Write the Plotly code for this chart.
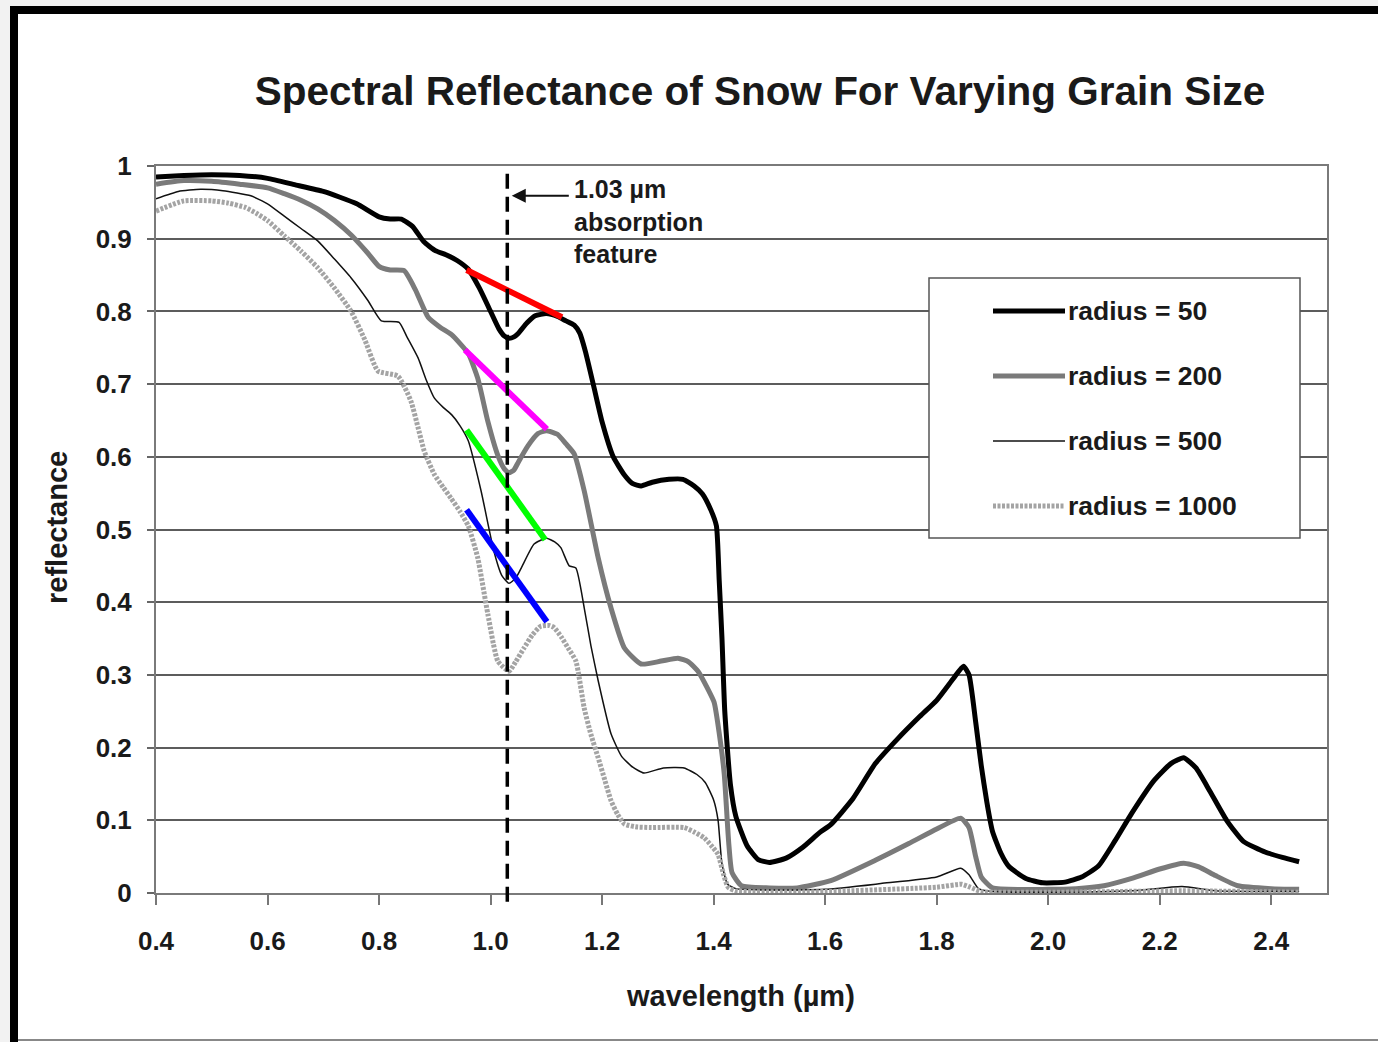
import plotly.graph_objects as go

# ---- data -------------------------------------------------------------
# spectral reflectance of snow, wavelength in micrometres
wl_r50 = [0.40, 0.45, 0.50, 0.55, 0.60, 0.65, 0.70, 0.73, 0.76, 0.80, 0.82, 0.84,
          0.86, 0.88, 0.90, 0.92, 0.94, 0.96, 0.98, 1.00, 1.015, 1.025, 1.033, 1.042, 1.05, 1.065,
          1.08, 1.10, 1.12, 1.135, 1.15, 1.16, 1.17, 1.185, 1.20, 1.22, 1.24, 1.255,
          1.27, 1.29, 1.32, 1.345, 1.365, 1.38, 1.395, 1.405, 1.41, 1.415, 1.42, 1.43,
          1.44, 1.46, 1.48, 1.50, 1.53, 1.56, 1.59, 1.61, 1.65, 1.69, 1.73, 1.77,
          1.80, 1.83, 1.848, 1.858, 1.87, 1.88, 1.89, 1.90, 1.915, 1.93, 1.96, 1.99,
          2.03, 2.06, 2.09, 2.12, 2.15, 2.19, 2.22, 2.243, 2.265, 2.29, 2.32, 2.35,
          2.39, 2.42, 2.45]
refl_r50 = [0.985, 0.987, 0.988, 0.987, 0.983, 0.974, 0.965, 0.957, 0.948, 0.930, 0.927, 0.927,
            0.917, 0.896, 0.884, 0.878, 0.870, 0.858, 0.832, 0.800, 0.776, 0.766, 0.763, 0.765, 0.770, 0.784,
            0.794, 0.797, 0.793, 0.787, 0.781, 0.770, 0.745, 0.697, 0.648, 0.600, 0.575, 0.563,
            0.560, 0.565, 0.569, 0.569, 0.560, 0.549, 0.527, 0.505, 0.430, 0.350, 0.250, 0.150,
            0.105, 0.065, 0.046, 0.042, 0.048, 0.063, 0.083, 0.094, 0.130, 0.178, 0.212, 0.243,
            0.265, 0.295, 0.312, 0.300, 0.235, 0.175, 0.125, 0.085, 0.055, 0.036, 0.020, 0.014,
            0.015, 0.022, 0.037, 0.072, 0.110, 0.155, 0.178, 0.186, 0.172, 0.140, 0.100, 0.071,
            0.056, 0.049, 0.043]

wl_r200 = [0.40, 0.45, 0.50, 0.55, 0.60, 0.63, 0.66, 0.69, 0.72, 0.75, 0.78, 0.80,
           0.82, 0.845, 0.865, 0.888, 0.91, 0.93, 0.96, 0.977, 0.995, 1.013, 1.025, 1.033, 1.042, 1.05,
           1.067, 1.085, 1.10, 1.12, 1.135, 1.15, 1.168, 1.193, 1.216, 1.24, 1.27, 1.306,
           1.336, 1.355, 1.372, 1.39, 1.401, 1.41, 1.419, 1.427, 1.433, 1.45, 1.50, 1.55,
           1.61, 1.69, 1.75, 1.80, 1.843, 1.858, 1.87, 1.88, 1.90, 2.00, 2.05, 2.10,
           2.15, 2.20, 2.243, 2.27, 2.30, 2.34, 2.40, 2.45]
refl_r200 = [0.975, 0.980, 0.979, 0.975, 0.970, 0.962, 0.953, 0.941, 0.925, 0.905, 0.880, 0.862,
             0.857, 0.856, 0.830, 0.792, 0.778, 0.768, 0.742, 0.708, 0.649, 0.602, 0.583, 0.578, 0.582, 0.593,
             0.615, 0.632, 0.636, 0.631, 0.618, 0.604, 0.553, 0.461, 0.392, 0.337, 0.315, 0.319,
             0.323, 0.318, 0.305, 0.280, 0.262, 0.220, 0.164, 0.070, 0.028, 0.010, 0.007, 0.007,
             0.017, 0.045, 0.068, 0.088, 0.103, 0.090, 0.050, 0.022, 0.007, 0.005, 0.006, 0.010,
             0.020, 0.033, 0.041, 0.036, 0.024, 0.010, 0.006, 0.005]

wl_r500 = [0.40, 0.44, 0.48, 0.52, 0.57, 0.60, 0.63, 0.66, 0.69, 0.72, 0.75, 0.78,
           0.804, 0.836, 0.85, 0.87, 0.885, 0.899, 0.915, 0.93, 0.945, 0.96, 0.983, 1.006,
           1.02, 1.033, 1.045, 1.055, 1.078, 1.10, 1.115, 1.126, 1.141, 1.153, 1.168, 1.18,
           1.193, 1.216, 1.235, 1.255, 1.275, 1.31, 1.347, 1.37, 1.385, 1.40, 1.408, 1.415,
           1.425, 1.44, 1.50, 1.60, 1.70, 1.80, 1.843, 1.858, 1.875, 1.90, 2.00, 2.15,
           2.24, 2.30, 2.45]
refl_r500 = [0.955, 0.965, 0.968, 0.966, 0.959, 0.948, 0.931, 0.914, 0.897, 0.872, 0.846, 0.815,
             0.787, 0.785, 0.765, 0.736, 0.705, 0.681, 0.668, 0.658, 0.643, 0.622, 0.553, 0.470,
             0.437, 0.426, 0.433, 0.447, 0.480, 0.488, 0.483, 0.475, 0.450, 0.447, 0.392, 0.340,
             0.292, 0.219, 0.188, 0.173, 0.165, 0.172, 0.172, 0.163, 0.152, 0.128, 0.100, 0.040,
             0.012, 0.006, 0.004, 0.005, 0.013, 0.022, 0.034, 0.025, 0.006, 0.002, 0.001, 0.003,
             0.009, 0.003, 0.002]

wl_r1000 = [0.40, 0.45, 0.50, 0.53, 0.56, 0.58, 0.60, 0.63, 0.66, 0.69, 0.72, 0.75,
            0.775, 0.798, 0.834, 0.857, 0.87, 0.881, 0.899, 0.915, 0.929, 0.945, 0.96, 0.977,
            0.995, 1.013, 1.033, 1.045, 1.06, 1.075, 1.09, 1.105, 1.114, 1.127, 1.139, 1.153,
            1.168, 1.18, 1.193, 1.205, 1.216, 1.228, 1.24, 1.26, 1.288, 1.347, 1.365, 1.383,
            1.395, 1.408, 1.418, 1.426, 1.44, 1.60, 1.80, 1.845, 1.86, 1.88, 2.00, 2.24,
            2.45]
refl_r1000 = [0.938, 0.952, 0.952, 0.949, 0.943, 0.935, 0.925, 0.904, 0.883, 0.860, 0.832, 0.800,
              0.760, 0.718, 0.711, 0.677, 0.640, 0.608, 0.576, 0.558, 0.543, 0.525, 0.505, 0.461,
              0.384, 0.319, 0.305, 0.318, 0.337, 0.355, 0.367, 0.368, 0.365, 0.352, 0.337, 0.319,
              0.254, 0.218, 0.186, 0.155, 0.127, 0.108, 0.095, 0.091, 0.090, 0.090, 0.084, 0.076,
              0.066, 0.053, 0.025, 0.008, 0.003, 0.002, 0.008, 0.012, 0.008, 0.002, 0.001, 0.003,
              0.001]

series_names = ["radius = 50", "radius = 200", "radius = 500", "radius = 1000"]
series_x = [wl_r50, wl_r200, wl_r500, wl_r1000]
series_y = [refl_r50, refl_r200, refl_r500, refl_r1000]

# continuum lines bridging the 1.03 um absorption band
cont_x0 = [0.957, 0.954, 0.957, 0.957]
cont_y0 = [0.857, 0.747, 0.637, 0.527]
cont_x1 = [1.128, 1.101, 1.098, 1.101]
cont_y1 = [0.792, 0.638, 0.486, 0.373]
cont_colors = ["#ff0000", "#ff00ff", "#00ff00", "#0000ff"]

feature_wl = 1.03
x_ticks = [0.4, 0.6, 0.8, 1.0, 1.2, 1.4, 1.6, 1.8, 2.0, 2.2, 2.4]
x_tick_text = ["0.4", "0.6", "0.8", "1.0", "1.2", "1.4", "1.6", "1.8", "2.0", "2.2", "2.4"]
y_ticks = [0, 0.1, 0.2, 0.3, 0.4, 0.5, 0.6, 0.7, 0.8, 0.9, 1.0]
y_tick_text = ["0", "0.1", "0.2", "0.3", "0.4", "0.5", "0.6", "0.7", "0.8", "0.9", "1"]

# ---- styling ----------------------------------------------------------
FONT = "Liberation Sans, Arial, sans-serif"
W, H = 1378, 1042
ML, MR, MT, MB = 156, 51, 166, 149
PW, PH = W - ML - MR, H - MT - MB

styles = [
    dict(color="#000000", width=5),
    dict(color="#7a7a7a", width=5),
    dict(color="#111111", width=1.5),
    dict(color="#a4a4a4", width=5, dash="3px,1.5px"),
]


def px_x(p):
    return (p - ML) / PW


def px_y(p):
    return (H - MB - p) / PH


fig = go.Figure()

for name, xs, ys, st in zip(series_names, series_x, series_y, styles):
    fig.add_trace(go.Scatter(x=xs, y=ys, mode="lines", name=name,
                             line=dict(st, shape="spline", smoothing=0.5),
                             showlegend=False, hoverinfo="x+y+name"))

# continuum segments
for x0, y0, x1, y1, c in zip(cont_x0, cont_y0, cont_x1, cont_y1, cont_colors):
    fig.add_trace(go.Scatter(x=[x0, x1], y=[y0, y1], mode="lines",
                             line=dict(color=c, width=6), showlegend=False,
                             hoverinfo="skip"))

shapes = []
# dashed marker of the absorption feature
shapes.append(dict(type="line", xref="x", yref="paper", x0=feature_wl, x1=feature_wl,
                   y0=-0.012, y1=0.99, line=dict(color="#000", width=3.5, dash="15px,8px")))

# page frame
shapes.append(dict(type="rect", xref="paper", yref="paper", x0=px_x(0), x1=px_x(W),
                   y0=px_y(0), y1=px_y(6), fillcolor="#f2f2f2", line_width=0, layer="below"))
shapes.append(dict(type="rect", xref="paper", yref="paper", x0=px_x(0), x1=px_x(10),
                   y0=px_y(0), y1=px_y(H), fillcolor="#f2f2f2", line_width=0, layer="below"))
shapes.append(dict(type="rect", xref="paper", yref="paper", x0=px_x(10), x1=px_x(W),
                   y0=px_y(6), y1=px_y(14), fillcolor="#000", line_width=0))
shapes.append(dict(type="rect", xref="paper", yref="paper", x0=px_x(10), x1=px_x(18),
                   y0=px_y(6), y1=px_y(H), fillcolor="#000", line_width=0))
shapes.append(dict(type="line", xref="paper", yref="paper", x0=px_x(18), x1=px_x(W),
                   y0=px_y(1040), y1=px_y(1040), line=dict(color="#888", width=2)))

# legend box
shapes.append(dict(type="rect", xref="paper", yref="paper", x0=px_x(929), x1=px_x(1300),
                   y0=px_y(538), y1=px_y(278), fillcolor="#fff",
                   line=dict(color="#555", width=1.5)))
annotations = []
row_y = [311, 376, 441, 506]
for name, st, ry in zip(series_names, styles, row_y):
    shapes.append(dict(type="line", xref="paper", yref="paper", x0=px_x(993), x1=px_x(1065),
                       y0=px_y(ry), y1=px_y(ry), line=st))
    annotations.append(dict(xref="paper", yref="paper", x=px_x(1066), y=px_y(ry),
                            xanchor="left", yanchor="middle", text=name, showarrow=False,
                            font=dict(family=FONT, size=26.5, color="#1a1a1a", weight="bold")))

# feature label and arrow
annotations.append(dict(xref="x", yref="y", x=1.146, y=0.99, xanchor="left", yanchor="top",
                        align="left", showarrow=False,
                        text="1.03 \u00b5m<br>absorption<br>feature",
                        font=dict(family=FONT, size=25, color="#1a1a1a", weight="bold")))
annotations.append(dict(xref="x", yref="y", x=feature_wl + 0.008, y=0.959,
                        axref="x", ayref="y", ax=1.143, ay=0.959, text="",
                        showarrow=True, arrowhead=2, arrowsize=1.4, arrowwidth=2,
                        arrowcolor="#111"))

# axis titles
annotations.append(dict(xref="paper", yref="paper", x=px_x(740), y=px_y(996),
                        xanchor="center", yanchor="middle", showarrow=False,
                        text="wavelength (\u00b5m)",
                        font=dict(family=FONT, size=29, color="#1a1a1a", weight="bold")))
annotations.append(dict(xref="paper", yref="paper", x=px_x(57), y=px_y(528),
                        xanchor="center", yanchor="middle", showarrow=False, textangle=-90,
                        text="reflectance",
                        font=dict(family=FONT, size=29, color="#1a1a1a", weight="bold")))

fig.update_layout(
    width=W, height=H,
    margin=dict(l=ML, r=MR, t=MT, b=MB, pad=0),
    paper_bgcolor="#ffffff", plot_bgcolor="#ffffff",
    title=dict(text="Spectral Reflectance of Snow For Varying Grain Size",
               x=px_x(760), xref="paper", xanchor="center",
               y=1 - 91 / H, yref="container", yanchor="middle",
               font=dict(family=FONT, size=40.5, color="#1a1a1a", weight="bold")),
    shapes=shapes, annotations=annotations,
    showlegend=False,
)
fig.update_xaxes(range=[0.4, 2.5], tickvals=x_ticks, ticktext=x_tick_text,
                 showgrid=False, zeroline=False, showline=True, linecolor="#7a7a7a",
                 linewidth=2, mirror=True, ticks="outside", ticklen=10, tickwidth=2,
                 tickcolor="#777", ticklabelstandoff=14,
                 tickfont=dict(family=FONT, size=26, color="#1a1a1a", weight="bold"))
fig.update_yaxes(range=[0, 1], tickvals=y_ticks, ticktext=y_tick_text,
                 showgrid=True, gridcolor="#5c5c5c", gridwidth=1.5, zeroline=False,
                 showline=True, linecolor="#7a7a7a", linewidth=2, mirror=True,
                 ticks="outside", ticklen=7, tickwidth=1.5, tickcolor="#666",
                 ticklabelstandoff=10,
                 tickfont=dict(family=FONT, size=26, color="#1a1a1a", weight="bold"))

fig.write_html("out.html")
